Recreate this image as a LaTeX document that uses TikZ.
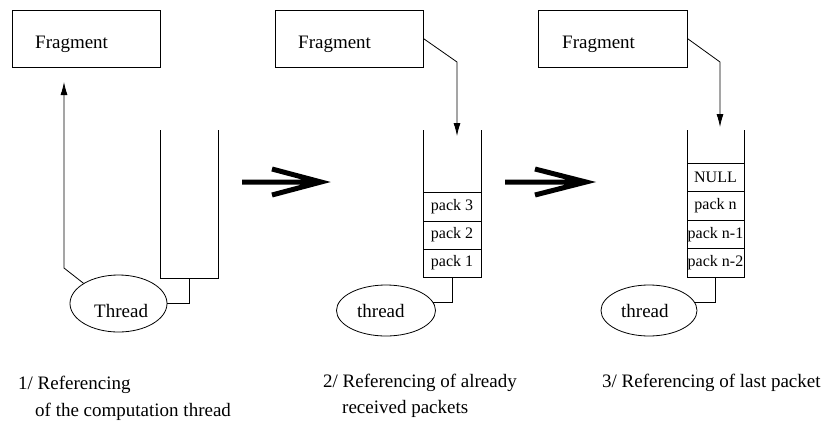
\documentclass[tikz,border=0pt]{standalone}
\usepackage{fontspec}
\setmainfont{Liberation Serif}
\usetikzlibrary{shapes.geometric,arrows.meta}
\tikzset{
  thin line/.style={line width=0.8pt},
  fragbox/.style={draw, thin line, rectangle, minimum width=148pt, minimum height=57pt, inner sep=0pt},
  thrd/.style={draw, thin line, ellipse, inner sep=0pt},
  cell/.style={draw, thin line, rectangle, minimum width=58pt, minimum height=28.5pt, inner sep=0pt, font=\fontsize{16}{18}\selectfont},
  txt/.style={inner sep=0pt, anchor=base west, font=\fontsize{19}{22}\selectfont},
  ptr/.style={thin line, -{Latex[length=13pt,width=7pt]}},
  bigarrow/.style={line width=5pt, line join=miter, miter limit=20},
}
\begin{document}
\begin{tikzpicture}[x=1pt,y=-1pt]
\useasboundingbox (0,0) rectangle (823,421);

% ---------- Panel 1 ----------
\node[fragbox] (f1) at (86,38.5) {};
\node[txt] (f1t) at (35,48.3) {Fragment};
\node[thrd, minimum width=97pt, minimum height=57pt] (e1) at (118.5,303.5) {};
\node[txt] (e1t) at (94,317) {Thread};
\draw[thin line] (160,130) coordinate (s1tl) -- (160,278) -- (218,278) -- (218,130) coordinate (s1tr);
\coordinate (s1b) at (189,278);
\coordinate (k1) at (64,268);
\coordinate (t1) at (64,82);
\draw[ptr] (e1.150) -- (k1) -- (t1);
\draw[thin line] (s1b) |- (e1.east);

% big arrow 1
\coordinate (a1s) at (242,182);
\coordinate (a1t) at (321,182);
\coordinate (a1u) at (272,169);
\coordinate (a1d) at (272,195);
\draw[bigarrow] (a1s) -- (a1t) (a1u) -- (a1t) -- (a1d);

% ---------- Panel 2 ----------
\node[fragbox] (f2) at (349,38.5) {};
\node[txt] (f2t) at (298,48.3) {Fragment};
\draw[thin line] (423,192) -- (423,130);
\draw[thin line] (481,192) -- (481,130);
\node[cell, minimum height=29pt] (p23) at (452,206.5) {pack 3};
\node[cell, minimum height=28pt] (p22) at (452,235) {pack 2};
\node[cell, minimum height=28pt] (p21) at (452,263) {pack 1};
\node[thrd, minimum width=99pt, minimum height=51pt] (e2) at (386,310.5) {};
\node[txt] (e2t) at (357,317) {thread};
\coordinate (k2) at (457,62);
\coordinate (t2) at (457,136);
\draw[ptr] (f2.east) -- (k2) -- (t2);
\draw[thin line] (p21.south) |- (e2.10);

% big arrow 2
\coordinate (a2s) at (505,182);
\coordinate (a2t) at (586,182);
\coordinate (a2u) at (535,169);
\coordinate (a2d) at (535,195);
\draw[bigarrow] (a2s) -- (a2t) (a2u) -- (a2t) -- (a2d);

% ---------- Panel 3 ----------
\node[fragbox, minimum width=149pt] (f3) at (612.5,38.5) {};
\node[txt] (f3t) at (562,48.3) {Fragment};
\draw[thin line] (687,163) -- (687,130);
\draw[thin line] (744,163) -- (744,130);
\node[cell, minimum width=57pt] (p3a) at (715.5,177.25) {NULL};
\node[cell, minimum width=57pt] (p3b) at (715.5,205.75) {pack n};
\node[cell, minimum width=57pt] (p3c) at (715.5,234.25) {pack n-1};
\node[cell, minimum width=57pt] (p3d) at (715.5,262.75) {pack n-2};
\node[thrd, minimum width=96pt, minimum height=51pt] (e3) at (649,310.5) {};
\node[txt] (e3t) at (621,317) {thread};
\coordinate (k3) at (720,62);
\coordinate (t3) at (720,127);
\draw[ptr] (f3.east) -- (k3) -- (t3);
\draw[thin line] (p3d.south) |- (e3.10);

% ---------- captions ----------
\node[txt] (c1a) at (18,389.5) {1/ Referencing};
\node[txt] (c1b) at (35,416.5) {of the computation thread};
\node[txt] (c2a) at (323,387) {2/ Referencing of already};
\node[txt] (c2b) at (342,413) {received packets};
\node[txt] (c3a) at (602,387) {3/ Referencing of last packet};
\end{tikzpicture}
\end{document}
